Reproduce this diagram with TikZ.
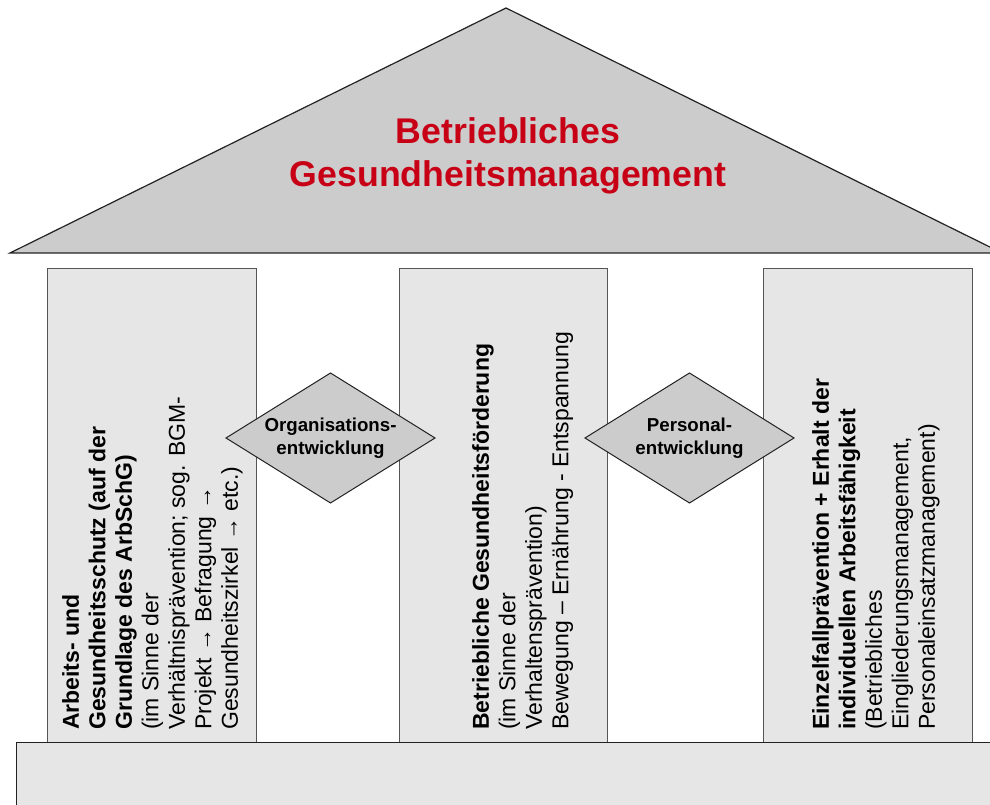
\documentclass[tikz,border=0pt]{standalone}
\usepackage{fontspec}
\setmainfont{Liberation Sans}
\definecolor{roofgray}{HTML}{CCCCCC}
\definecolor{pillargray}{HTML}{E6E6E6}
\definecolor{titlered}{RGB}{200,0,22}
\definecolor{edgedark}{HTML}{222222}
\definecolor{edgemid}{HTML}{555555}
\begin{document}
\begin{tikzpicture}[x=1pt,y=1pt,
  roofshape/.style={fill=roofgray,draw=edgedark,line width=1.2pt,line join=miter},
  pillar/.style={fill=pillargray,draw=edgemid,line width=1pt},
  plinth/.style={fill=pillargray,draw=edgedark,line width=1pt},
  junction/.style={fill=roofgray,draw=edgedark,line width=1pt},
  junctiontext/.style={inner sep=0pt,align=center,font=\bfseries\fontsize{18.7}{23}\selectfont},
  titletext/.style={inner sep=0pt,align=center,text=titlered,font=\bfseries\fontsize{35.7}{43}\selectfont},
  pillartext/.style={rotate=90,anchor=north west,inner sep=0pt,align=left,font=\fontsize{23}{26.5}\selectfont}]
\useasboundingbox (0,0) rectangle (990,805);
\clip (0,0) rectangle (990,805);

% roof
\path[roofshape] (10,552) -- (506,797) -- (1002,552) -- cycle;
\node[titletext] (title) at (508,649) {Betriebliches\\Gesundheitsmanagement};

% pillars
\path[pillar] (47,62) rectangle (256,536);
\path[pillar] (399,62) rectangle (607,536);
\path[pillar] (763,62) rectangle (972,536);

% plinth
\path[plinth] (16,-10) rectangle (1000,62);

% pillar texts
\node[pillartext] (arbeitsschutz) at (62,75) {{\bfseries Arbeits- und}\\
  {\bfseries Gesundheitsschutz (auf der}\\
  {\bfseries Grundlage des ArbSchG)}\\
  (im Sinne der\\
  Verhältnisprävention; sog. BGM-\\
  Projekt → Befragung →\\
  Gesundheitszirkel → etc.)};
\node[pillartext] (bgf) at (472,75) {{\bfseries Betriebliche Gesundheitsförderung}\\
  (im Sinne der\\
  Verhaltensprävention)\\
  Bewegung – Ernährung - Entspannung};
\node[pillartext] (einzelfall) at (812,75) {{\bfseries Einzelfallprävention + Erhalt der}\\
  {\bfseries individuellen Arbeitsfähigkeit}\\
  (Betriebliches\\
  Eingliederungsmanagement,\\
  Personaleinsatzmanagement)};

% linking diamonds
\path[junction] (226,367) -- (330.5,432) -- (435,367) -- (330.5,302) -- cycle;
\node[junctiontext] (orgdev) at (330.5,367) {Organisations-\\entwicklung};
\path[junction] (585,367) -- (689.5,432) -- (794,367) -- (689.5,302) -- cycle;
\node[junctiontext] (persdev) at (689.5,367) {Personal-\\entwicklung};
\end{tikzpicture}
\end{document}
